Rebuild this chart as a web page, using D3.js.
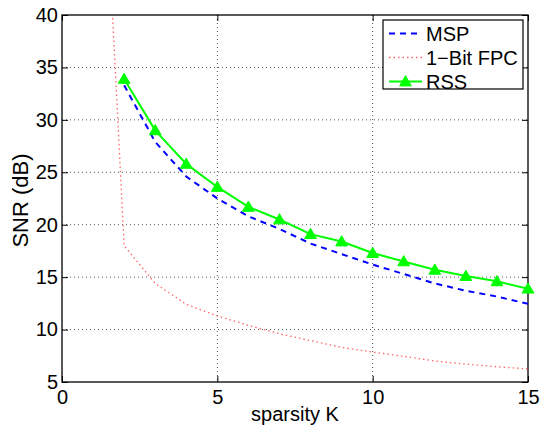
<html>
<head>
<meta charset="utf-8">
<title>SNR vs sparsity</title>
<style>
body { margin: 0; background: white; font-family: "Liberation Sans", Arial, sans-serif; }
.grid line { stroke: #555; stroke-width: 1; stroke-dasharray: 1,3; }
.axis text { font-size: 20px; fill: #000; }
.axis .domain { display: none; }
.axis line { stroke: #000; stroke-width: 1; }
.frame { fill: none; stroke: #000; stroke-width: 1.3; }
.line { fill: none; }
</style>
</head>
<body>
<svg id="chart" width="540" height="431"></svg>
<script src="https://cdn.jsdelivr.net/npm/d3@7"></script>
<script>

var kValues = [2, 3, 4, 5, 6, 7, 8, 9, 10, 11, 12, 13, 14, 15];
var msp = [33.3, 27.9, 24.6, 22.5, 20.8, 19.6, 18.2, 17.2, 16.2, 15.3, 14.4, 13.7, 13.15, 12.45];
var rss = [33.9, 29.0, 25.8, 23.6, 21.7, 20.5, 19.1, 18.4, 17.3, 16.5, 15.7, 15.1, 14.6, 13.9];
var fpcK = [1, 2, 3, 4, 5, 6, 7, 8, 9, 10, 11, 12, 13, 14, 15];
var fpc = [77, 18.0, 14.4, 12.4, 11.3, 10.4, 9.6, 8.95, 8.3, 7.85, 7.45, 7.0, 6.7, 6.45, 6.25];
var xTicks = [0, 5, 10, 15];
var yTicks = [5, 10, 15, 20, 25, 30, 35, 40];
var legendNames = ["MSP", "1\u2212Bit FPC", "RSS"];

var margin = {top: 15, right: 12, bottom: 49, left: 62};
var width = 540 - margin.left - margin.right;
var height = 431 - margin.top - margin.bottom;

var x = d3.scaleLinear().domain([0, 15]).range([0, width]);
var y = d3.scaleLinear().domain([5, 40]).range([height, 0]);

var svg = d3.select("#chart");
var g = svg.append("g")
    .attr("transform", "translate(" + margin.left + "," + margin.top + ")");

g.append("clipPath").attr("id", "clip")
  .append("rect").attr("width", width).attr("height", height);

// grid
g.append("g").attr("class", "grid")
  .selectAll("line").data(xTicks.slice(1, -1)).enter().append("line")
    .attr("x1", function(d) { return x(d); }).attr("x2", function(d) { return x(d); })
    .attr("y1", 0).attr("y2", height);
g.append("g").attr("class", "grid")
  .selectAll("line").data(yTicks.slice(1, -1)).enter().append("line")
    .attr("y1", function(d) { return y(d); }).attr("y2", function(d) { return y(d); })
    .attr("x1", 0).attr("x2", width);

// axes (ticks point inward, matlab style)
g.append("g").attr("class", "axis")
    .attr("transform", "translate(0," + height + ")")
    .call(d3.axisBottom(x).tickValues(xTicks).tickSizeInner(-6).tickSizeOuter(0).tickPadding(8));
g.append("g").attr("class", "axis")
    .call(d3.axisLeft(y).tickValues(yTicks).tickSizeInner(-6).tickSizeOuter(0).tickPadding(4));
g.append("g").attr("class", "axis")
    .call(d3.axisTop(x).tickValues(xTicks).tickSizeInner(-6).tickSizeOuter(0).tickFormat(""));
g.append("g").attr("class", "axis")
    .attr("transform", "translate(" + width + ",0)")
    .call(d3.axisRight(y).tickValues(yTicks).tickSizeInner(-6).tickSizeOuter(0).tickFormat(""));

g.append("rect").attr("class", "frame").attr("width", width).attr("height", height);

var plot = g.append("g").attr("clip-path", "url(#clip)");

var lineOf = function(xs) {
  return d3.line()
    .x(function(d, i) { return x(xs[i]); })
    .y(function(d) { return y(d); });
};

plot.append("path").datum(fpc).attr("class", "line")
    .attr("d", lineOf(fpcK))
    .attr("stroke", "#ff3030").attr("stroke-width", 1.3).attr("stroke-dasharray", "1.5,3").attr("opacity", 0.75);
plot.append("path").datum(msp).attr("class", "line")
    .attr("d", lineOf(kValues))
    .attr("stroke", "#0000ff").attr("stroke-width", 2).attr("stroke-dasharray", "6,5");
plot.append("path").datum(rss).attr("class", "line")
    .attr("d", lineOf(kValues))
    .attr("stroke", "#00ff00").attr("stroke-width", 2);

var tri = d3.symbol().type(d3.symbolTriangle).size(60);
g.append("g").selectAll("path").data(rss).enter().append("path")
    .attr("d", tri)
    .attr("transform", function(d, i) { return "translate(" + x(kValues[i]) + "," + (y(d) + 1) + ")"; })
    .attr("fill", "#00ff00").attr("stroke", "#00ff00").attr("stroke-width", 1);

// legend
var lg = svg.append("g").attr("transform", "translate(383,20)");
lg.append("rect").attr("width", 140).attr("height", 69)
    .attr("fill", "white").attr("stroke", "#000").attr("stroke-width", 1.2);
var styles = [
  {stroke: "#0000ff", w: 2, dash: "6,5", op: 1},
  {stroke: "#ff3030", w: 1.3, dash: "1.5,3", op: 0.75},
  {stroke: "#00ff00", w: 2, dash: null, op: 1}
];
var rows = lg.selectAll("g.row").data(legendNames).enter().append("g")
    .attr("transform", function(d, i) { return "translate(0," + (13.5 + i * 24) + ")"; });
rows.append("line").attr("x1", 6).attr("x2", 39).attr("y1", 0).attr("y2", 0)
    .attr("stroke", function(d, i) { return styles[i].stroke; })
    .attr("stroke-width", function(d, i) { return styles[i].w; })
    .attr("stroke-dasharray", function(d, i) { return styles[i].dash; })
    .attr("opacity", function(d, i) { return styles[i].op; });
rows.filter(function(d, i) { return i === 2; }).append("path")
    .attr("d", tri).attr("transform", "translate(22.5,1)")
    .attr("fill", "#00ff00").attr("stroke", "#00ff00");
rows.append("text").attr("x", 43).attr("dy", "0.36em")
    .attr("font-size", "20px").text(function(d) { return d; });

// axis labels
svg.append("text").attr("x", margin.left + width / 2).attr("y", 421)
    .attr("text-anchor", "middle").attr("font-size", "20px").text("sparsity K");
svg.append("text").attr("transform", "translate(28," + (margin.top + height / 2 + 2) + ") rotate(-90)")
    .attr("text-anchor", "middle").attr("font-size", "22px").text("SNR (dB)");

</script>
</body>
</html>
